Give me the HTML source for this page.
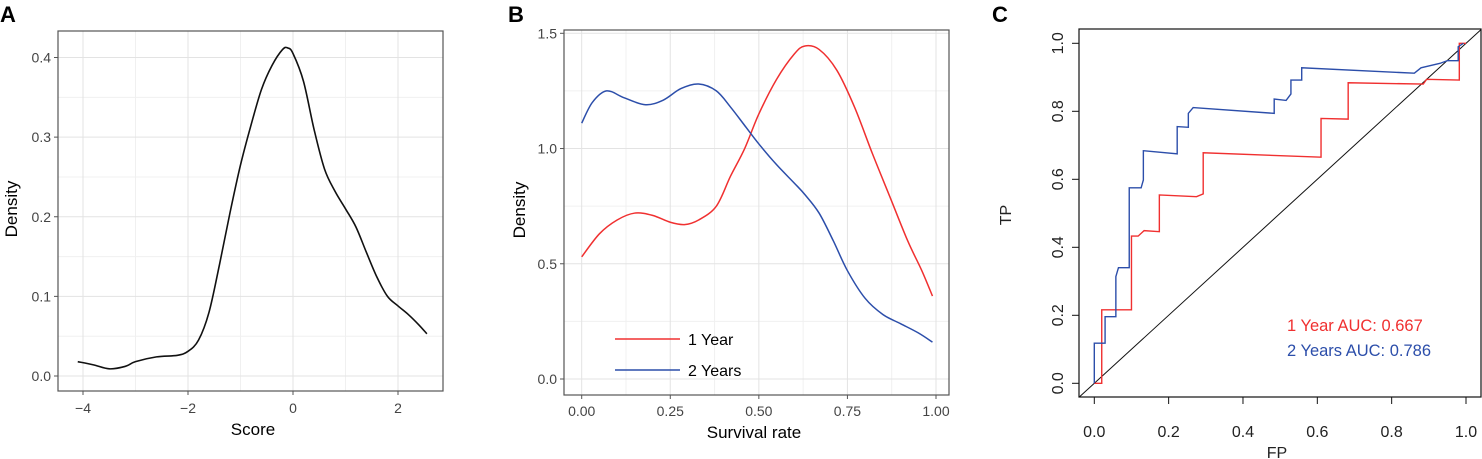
<!DOCTYPE html>
<html><head><meta charset="utf-8"><style>
body{margin:0;background:#fff;width:1482px;height:459px;overflow:hidden;font-family:"Liberation Sans",sans-serif}
svg{display:block}
</style></head><body>
<svg id="fig" width="1482" height="459" viewBox="0 0 1482 459" xmlns="http://www.w3.org/2000/svg" font-family="Liberation Sans, sans-serif"></svg>
<script>
// Panel A data
const scoreX=[-4.1,-3.8,-3.5,-3.2,-3.0,-2.6,-2.2,-2.0,-1.8,-1.6,-1.4,-1.2,-1.0,-0.8,-0.6,-0.4,-0.2,-0.1,0,0.2,0.4,0.6,0.8,1.0,1.2,1.4,1.6,1.8,2.0,2.2,2.4,2.55];
const scoreDensity=[0.018,0.014,0.009,0.012,0.018,0.024,0.026,0.031,0.045,0.08,0.14,0.205,0.265,0.315,0.36,0.39,0.41,0.412,0.405,0.37,0.31,0.26,0.232,0.21,0.187,0.155,0.124,0.1,0.088,0.077,0.064,0.053];
const aXTicks=[-4,-2,0,2];
const aYTicks=[0,0.1,0.2,0.3,0.4];
// Panel B data
const survX=[0,0.05,0.1,0.15,0.2,0.25,0.29,0.33,0.38,0.42,0.46,0.5,0.55,0.6,0.63,0.67,0.72,0.77,0.82,0.87,0.92,0.96,0.99];
const oneYear=[0.53,0.63,0.69,0.72,0.71,0.68,0.67,0.69,0.75,0.88,1.0,1.15,1.3,1.41,1.445,1.43,1.34,1.18,0.98,0.79,0.6,0.47,0.36];
const survX2=[0,0.03,0.07,0.12,0.18,0.23,0.28,0.33,0.38,0.42,0.46,0.5,0.55,0.6,0.63,0.67,0.71,0.75,0.8,0.85,0.9,0.95,0.99];
const twoYears=[1.11,1.2,1.25,1.22,1.19,1.21,1.26,1.28,1.25,1.18,1.1,1.02,0.93,0.85,0.8,0.72,0.6,0.47,0.35,0.28,0.24,0.2,0.16];
const bXTicks=[0,0.25,0.5,0.75,1.0];
const bXLabels=["0.00","0.25","0.50","0.75","1.00"];
const bYTicks=[0,0.5,1.0,1.5];
// Panel C data
const roc1FP=[0,0.020,0.020,0.100,0.100,0.118,0.134,0.175,0.175,0.275,0.293,0.293,0.610,0.610,0.683,0.683,0.885,0.894,0.982,0.982,1.0];
const roc1TP=[0,0,0.216,0.216,0.433,0.433,0.449,0.446,0.554,0.549,0.557,0.678,0.665,0.779,0.777,0.884,0.880,0.894,0.892,1.0,1.0];
const roc2FP=[0,0,0.029,0.029,0.058,0.058,0.065,0.094,0.094,0.126,0.132,0.132,0.223,0.223,0.253,0.253,0.266,0.484,0.484,0.516,0.529,0.529,0.558,0.558,0.861,0.879,0.930,0.950,0.979,0.979,0.993];
const roc2TP=[0,0.118,0.118,0.196,0.196,0.314,0.34,0.34,0.575,0.575,0.598,0.684,0.675,0.755,0.753,0.794,0.811,0.794,0.836,0.832,0.851,0.892,0.892,0.928,0.912,0.928,0.941,0.949,0.949,0.990,1.0];
const cTicks=[0,0.2,0.4,0.6,0.8,1.0];
const cLabels=["0.0","0.2","0.4","0.6","0.8","1.0"];

const NS="http://www.w3.org/2000/svg";
const svg=document.getElementById('fig');
function mk(tag,attrs,parent){const e=document.createElementNS(NS,tag);for(const k in attrs)e.setAttribute(k,attrs[k]);(parent||svg).appendChild(e);return e;}
function txt(s,attrs,parent){const e=mk('text',attrs,parent);e.textContent=s;return e;}
function lin(x0,x1,p0,p1){return v=>p0+(v-x0)/(x1-x0)*(p1-p0);}
function smooth(xs,ys,sx,sy){const p=xs.map((x,i)=>[sx(x),sy(ys[i])]);let d='M'+p[0][0]+','+p[0][1];for(let i=0;i<p.length-1;i++){const a=p[i-1]||p[i],b=p[i],c=p[i+1],e=p[i+2]||c;d+=' C'+(b[0]+(c[0]-a[0])/6)+','+(b[1]+(c[1]-a[1])/6)+' '+(c[0]-(e[0]-b[0])/6)+','+(c[1]-(e[1]-b[1])/6)+' '+c[0]+','+c[1];}return d;}
function poly(xs,ys,sx,sy){return xs.map((x,i)=>(i?'L':'M')+sx(x)+','+sy(ys[i])).join(' ');}

// ---------- Panel A ----------
let g=mk('g',{});


let t=txt('A',{x:0,y:22,'font-size':22,'font-weight':'bold'},g);

let ax=lin(-4,0,83,293), ay=lin(0,0.4,376,57.5);
[-3,-1,1].forEach(v=>mk('line',{x1:ax(v),x2:ax(v),y1:31,y2:391,stroke:'#f0f0f0'},g));
[0.05,0.15,0.25,0.35].forEach(v=>mk('line',{x1:58,x2:443,y1:ay(v),y2:ay(v),stroke:'#f0f0f0'},g));
aXTicks.forEach(v=>{mk('line',{x1:ax(v),x2:ax(v),y1:31,y2:391,stroke:'#e3e3e3'},g);mk('line',{x1:ax(v),x2:ax(v),y1:391,y2:395,stroke:'#555'},g);
 let l=txt(v<0?'\u2212'+(-v):String(v),{x:ax(v),y:413,'font-size':14,fill:'#444','text-anchor':'middle'},g);});
aYTicks.forEach(v=>{mk('line',{x1:58,x2:443,y1:ay(v),y2:ay(v),stroke:'#e3e3e3'},g);mk('line',{x1:54,x2:58,y1:ay(v),y2:ay(v),stroke:'#555'},g);
 let l=txt(v.toFixed(1),{x:51,y:ay(v)+5,'font-size':14,fill:'#444','text-anchor':'end'},g);});
mk('rect',{x:58,y:31,width:385,height:360,fill:'none',stroke:'#555','stroke-width':1.2},g);
let pa=mk('path',{d:smooth(scoreX,scoreDensity,ax,ay),fill:'none',stroke:'#111','stroke-width':1.6},g);

t=txt('Score',{x:253,y:435,'font-size':17,'text-anchor':'middle'},g);
t=txt('Density',{x:0,y:0,'font-size':17,'text-anchor':'middle',transform:'translate(17,209) rotate(-90)'},g);

// ---------- Panel B ----------
g=mk('g',{});


t=txt('B',{x:508,y:22,'font-size':22,'font-weight':'bold'},g);
let bx=lin(0,1,581.7,936), by=lin(0,1.5,379,33.3);
[0.125,0.375,0.625,0.875].forEach(v=>mk('line',{x1:bx(v),x2:bx(v),y1:30,y2:395,stroke:'#f0f0f0'},g));
[0.25,0.75,1.25].forEach(v=>mk('line',{x1:564,x2:949,y1:by(v),y2:by(v),stroke:'#f0f0f0'},g));
bXTicks.forEach((v,i)=>{mk('line',{x1:bx(v),x2:bx(v),y1:30,y2:395,stroke:'#e3e3e3'},g);mk('line',{x1:bx(v),x2:bx(v),y1:395,y2:399,stroke:'#555'},g);
 let l=txt(bXLabels[i],{x:bx(v),y:416,'font-size':14,fill:'#444','text-anchor':'middle'},g);});
bYTicks.forEach(v=>{mk('line',{x1:564,x2:949,y1:by(v),y2:by(v),stroke:'#e3e3e3'},g);mk('line',{x1:560,x2:564,y1:by(v),y2:by(v),stroke:'#555'},g);
 let l=txt(v.toFixed(1),{x:557,y:by(v)+5,'font-size':14,fill:'#444','text-anchor':'end'},g);});
mk('rect',{x:564,y:30,width:385,height:365,fill:'none',stroke:'#555','stroke-width':1.2},g);
let pb1=mk('path',{d:smooth(survX,oneYear,bx,by),fill:'none',stroke:'#f03030','stroke-width':1.5},g);

let pb2=mk('path',{d:smooth(survX2,twoYears,bx,by),fill:'none',stroke:'#2c4eaa','stroke-width':1.5},g);

let lg=mk('g',{},g);
mk('line',{x1:615,x2:680,y1:339,y2:339,stroke:'#f03030','stroke-width':1.5},lg);
t=txt('1 Year',{x:688,y:345,'font-size':16},lg);
mk('line',{x1:615,x2:680,y1:370,y2:370,stroke:'#2c4eaa','stroke-width':1.5},lg);
t=txt('2 Years',{x:688,y:376,'font-size':16},lg);
t=txt('Survival rate',{x:754,y:438,'font-size':17,'text-anchor':'middle'},g);
t=txt('Density',{x:0,y:0,'font-size':17,'text-anchor':'middle',transform:'translate(525,210) rotate(-90)'},g);

// ---------- Panel C ----------
g=mk('g',{});


t=txt('C',{x:992,y:22,'font-size':22,'font-weight':'bold'},g);
let cx=lin(0,1,1094.3,1466), cy=lin(0,1,383.3,43.3);
cTicks.forEach((v,i)=>{mk('line',{x1:cx(v),x2:cx(v),y1:397,y2:404,stroke:'#111'},g);
 let l=txt(cLabels[i],{x:cx(v),y:437,'font-size':16,fill:'#222','text-anchor':'middle'},g);
 mk('line',{x1:1072,x2:1079,y1:cy(v),y2:cy(v),stroke:'#111'},g);
 l=txt(cLabels[i],{x:0,y:0,'font-size':16,fill:'#222','text-anchor':'middle',transform:'translate('+1063+','+cy(v)+') rotate(-90)'},g);});
mk('line',{x1:cx(0),x2:cx(1),y1:397,y2:397,stroke:'#111'},g);
mk('rect',{x:1079,y:29,width:402,height:368,fill:'none',stroke:'#111','stroke-width':1.2},g);
let dg=mk('line',{x1:cx(-0.04),y1:cy(-0.04),x2:cx(1.04),y2:cy(1.04),stroke:'#111','stroke-width':1},g);

let r1=mk('path',{d:poly(roc1FP,roc1TP,cx,cy),fill:'none',stroke:'#f03030','stroke-width':1.4},g);

let r2=mk('path',{d:poly(roc2FP,roc2TP,cx,cy),fill:'none',stroke:'#2c4eaa','stroke-width':1.4},g);

t=txt('1 Year AUC: 0.667',{x:1287,y:331,'font-size':16.5,fill:'#f03030'},g);
t=txt('2 Years AUC: 0.786',{x:1287,y:356,'font-size':16.5,fill:'#2c4eaa'},g);
t=txt('FP',{x:1277,y:458,'font-size':16,fill:'#222','text-anchor':'middle'},g);
t=txt('TP',{x:0,y:0,'font-size':16,fill:'#222','text-anchor':'middle',transform:'translate(1011,215) rotate(-90)'},g);
</script>
</body></html>
